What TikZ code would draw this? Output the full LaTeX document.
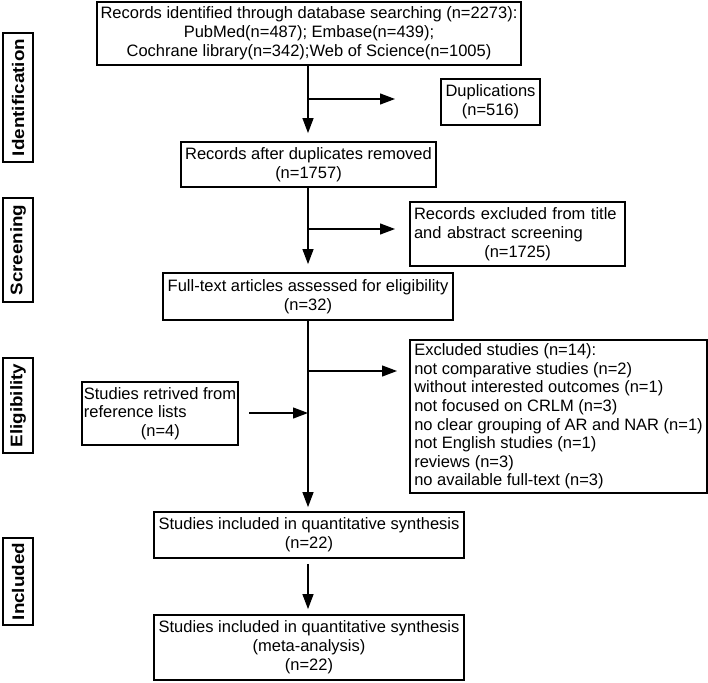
\documentclass[tikz,border=0pt]{standalone}
\usepackage{fontspec}
\setmainfont{Liberation Sans}
\newfontfamily\labelfont[FakeStretch=1.12]{Liberation Sans}
\usetikzlibrary{arrows.meta}
\begin{document}
\begin{tikzpicture}[x=1pt,y=-1pt,
  box/.style={draw,line width=1.8pt,inner sep=0pt,align=center,
    font=\fontsize{16.5}{19}\selectfont},
  lbox/.style={box,align=left,inner xsep=4pt},
  phase/.style={draw,line width=2pt,inner sep=0pt,rotate=90,
    minimum height=30pt,font=\labelfont\bfseries\fontsize{16.8}{19}\selectfont},
  conn/.style={line width=1.2pt},
  arr/.style={conn,-{Triangle[length=15pt,width=11pt]}}]
\useasboundingbox (0,0) rectangle (708,682);

% phase labels
\node[phase,minimum width=129pt] (pid) at (18,97.5) {Identification};
\node[phase,minimum width=104pt] (psc) at (18,250) {Screening};
\node[phase,minimum width=95pt] (pel) at (18,405.5) {Eligibility};
\node[phase,minimum width=87pt] (pin) at (18,581.5) {Included};

% boxes
\node[box,minimum width=424pt,minimum height=63pt] (top) at (309,33.5)
  {Records identified through database searching (n=2273):\\PubMed(n=487); Embase(n=439);\\Cochrane library(n=342);Web of Science(n=1005)};
\node[box,minimum width=99pt,minimum height=46pt] (dup) at (490.5,102)
  {Duplications\\(n=516)};
\node[box,minimum width=255pt,minimum height=45pt] (after) at (308.5,164.5)
  {Records after duplicates removed\\(n=1757)};
\node[lbox,text width=207pt,minimum height=64pt] (ex1) at (517.5,234)
  {Records excluded from title\\and abstract screening\\\makebox[207pt]{(n=1725)}};
\node[box,minimum width=290pt,minimum height=47pt] (full) at (308,296.5)
  {Full-text articles assessed for eligibility\\(n=32)};
\node[lbox,minimum height=153pt,
  font=\fontsize{16.5}{18.6}\selectfont] (ex2) at (558.5,416.5)
  {Excluded studies (n=14):\\not comparative studies (n=2)\\without interested outcomes (n=1)\\not focused on CRLM (n=3)\\no clear grouping of AR and NAR (n=1)\\not English studies (n=1)\\reviews (n=3)\\no available full-text (n=3)};
\node[box,align=left,minimum width=156pt,minimum height=63pt,
  font=\fontsize{16.5}{18.5}\selectfont] (ref) at (160,413.5)
  {Studies retrived from\\reference lists\\\hspace*{57pt}(n=4)};
\node[box,minimum width=310pt,minimum height=46pt] (incl) at (309,535)
  {Studies included in quantitative synthesis\\(n=22)};
\node[box,minimum width=310pt,minimum height=65pt] (fin) at (309,647.5)
  {Studies included in quantitative synthesis\\(meta-analysis)\\(n=22)};

% connector helpers
\coordinate (mx) at (308,0);
\coordinate (b1) at (308,99);
\coordinate (b1e) at (395,99);
\coordinate (b2) at (308,229);
\coordinate (b2e) at (395,229);
\coordinate (b3) at (308,371);
\coordinate (b3e) at (397,371);
\coordinate (r1) at (249,413);

% connectors
\draw[arr] (top.south -| mx) -- ([yshift=8pt]after.north -| mx);
\draw[arr] (b1) -- (b1e);
\draw[arr] (after.south -| mx) -- ([yshift=8pt]full.north -| mx);
\draw[arr] (b2) -- (b2e);
\draw[arr] (full.south -| mx) -- ([yshift=4pt]incl.north -| mx);
\draw[arr] (b3) -- (b3e);
\draw[arr] (r1) -- (r1 -| mx);
\draw[arr] ([yshift=-5pt]incl.south -| mx) -- ([yshift=5pt]fin.north -| mx);
\end{tikzpicture}
\end{document}
